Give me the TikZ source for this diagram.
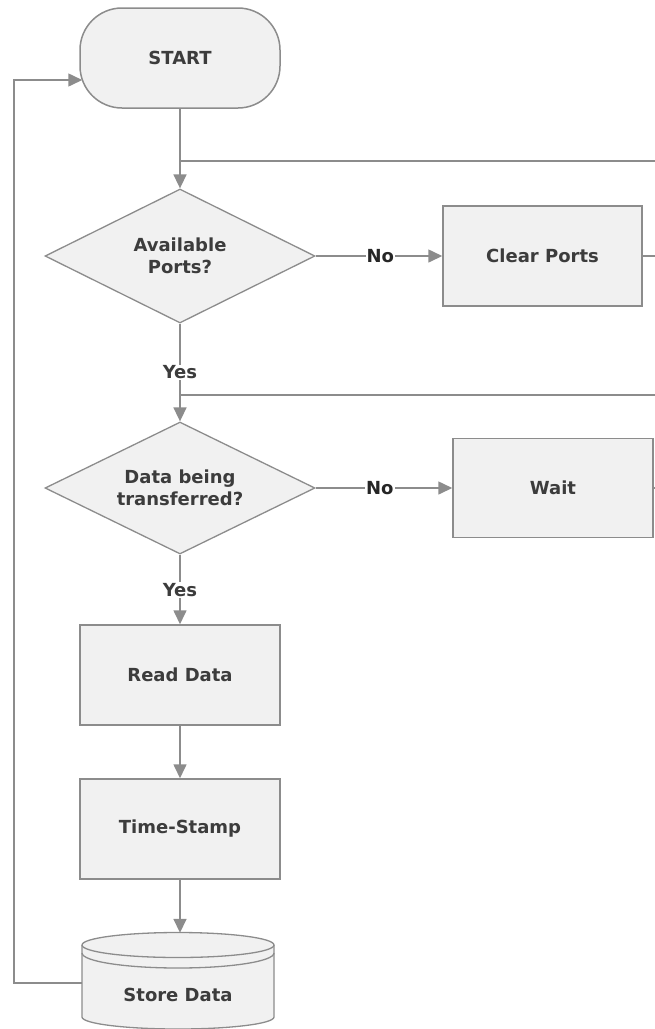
\documentclass[tikz,border=0pt]{standalone}
\usepackage{fontspec}
\setmainfont{DejaVu Sans}
\usetikzlibrary{shapes.geometric,arrows.meta}

\definecolor{lc}{HTML}{8C8C8C}
\definecolor{fc}{HTML}{F1F1F1}
\definecolor{tc}{HTML}{3C3C3C}
\newcommand\lbl{\fontsize{18pt}{21.5pt}\selectfont\bfseries}

\tikzset{
  box/.style={draw=lc, fill=fc, line width=1.5pt, minimum width=200pt,
    minimum height=100pt, inner sep=0pt, font=\lbl, text=tc, align=center},
  terminal/.style={box, rounded corners=42pt},
  decision/.style={diamond, aspect=2, draw=lc, fill=fc, line width=1.3pt,
    minimum width=270pt, minimum height=134pt, inner sep=0pt,
    font=\lbl, text=tc, align=center},
  flow/.style={draw=lc, line width=1.6pt, -{Triangle[length=14pt,width=13pt]}},
  link/.style={draw=lc, line width=1.6pt},
  tag/.style={fill=white, inner sep=1pt, font=\lbl, text=tc},
}

\begin{document}
\begin{tikzpicture}[x=1pt, y=-1pt]
\useasboundingbox (0,0) rectangle (655,1029);

% process steps
\node[terminal] (start) at (180,58) {START};
\node[decision] (ports) at (180,256) {Available\\Ports?};
\node[box, minimum width=199pt] (clear) at (542.5,256) {Clear Ports};
\node[decision, minimum height=132pt] (busy) at (180,488) {Data being\\transferred?};
\node[box, minimum height=99pt] (wait) at (553,488) {Wait};
\node[box] (read) at (180,675) {Read Data};
\node[box] (stamp) at (180,829) {Time-Stamp};

% data store (drum)
\node[minimum width=192pt, minimum height=95pt, inner sep=0pt] (store) at (178,980.5) {};
\filldraw[draw=lc, fill=fc, line width=1.3pt]
  (82,945) arc[start angle=180, end angle=0, x radius=96pt, y radius=12.5pt]
  -- (274,1017) arc[start angle=0, end angle=-180, x radius=96pt, y radius=12pt]
  -- cycle;
\draw[draw=lc, line width=1.3pt]
  (82,945) arc[start angle=180, end angle=360, x radius=96pt, y radius=12.5pt];
\draw[draw=lc, line width=1.3pt]
  (82,953) arc[start angle=180, end angle=360, x radius=96pt, y radius=15pt];
\node[font=\lbl, text=tc, inner sep=0pt] (storetext) at (178,995) {Store Data};

% loop-back junctions and right-hand returns
\coordinate (j1) at (180,161);
\coordinate (j2) at (180,395);
\coordinate (r1) at (655,161);
\coordinate (r2) at (655,256);
\coordinate (r3) at (655,395);
\coordinate (r4) at (655,488);
\coordinate (lx) at (14,983);

% connectors
\draw[flow] (start.south) -- (ports.north);
\draw[link] (r1) -- (j1);
\draw[flow] (ports.east) -- node[tag, text=black!85, pos=0.51] {No} (clear.west);
\draw[link] (clear.east) -- (r2);
\draw[flow] (ports.south) -- node[tag, pos=0.5] {Yes} (busy.north);
\draw[link] (r3) -- (j2);
\draw[flow] (busy.east) -- node[tag, text=black!85, pos=0.47] {No} (wait.west);
\draw[link] (wait.east) -- (r4);
\draw[flow] (busy.south) -- node[tag, pos=0.51] {Yes} (read.north);
\draw[flow] (read.south) -- (stamp.north);
\draw[flow] (stamp.south) -- (stamp.south |- store.north);
\draw[flow] ([yshift=-2.5pt]store.west) -- (lx) |- ([xshift=3pt,yshift=-22pt]start.west);
\end{tikzpicture}
\end{document}
